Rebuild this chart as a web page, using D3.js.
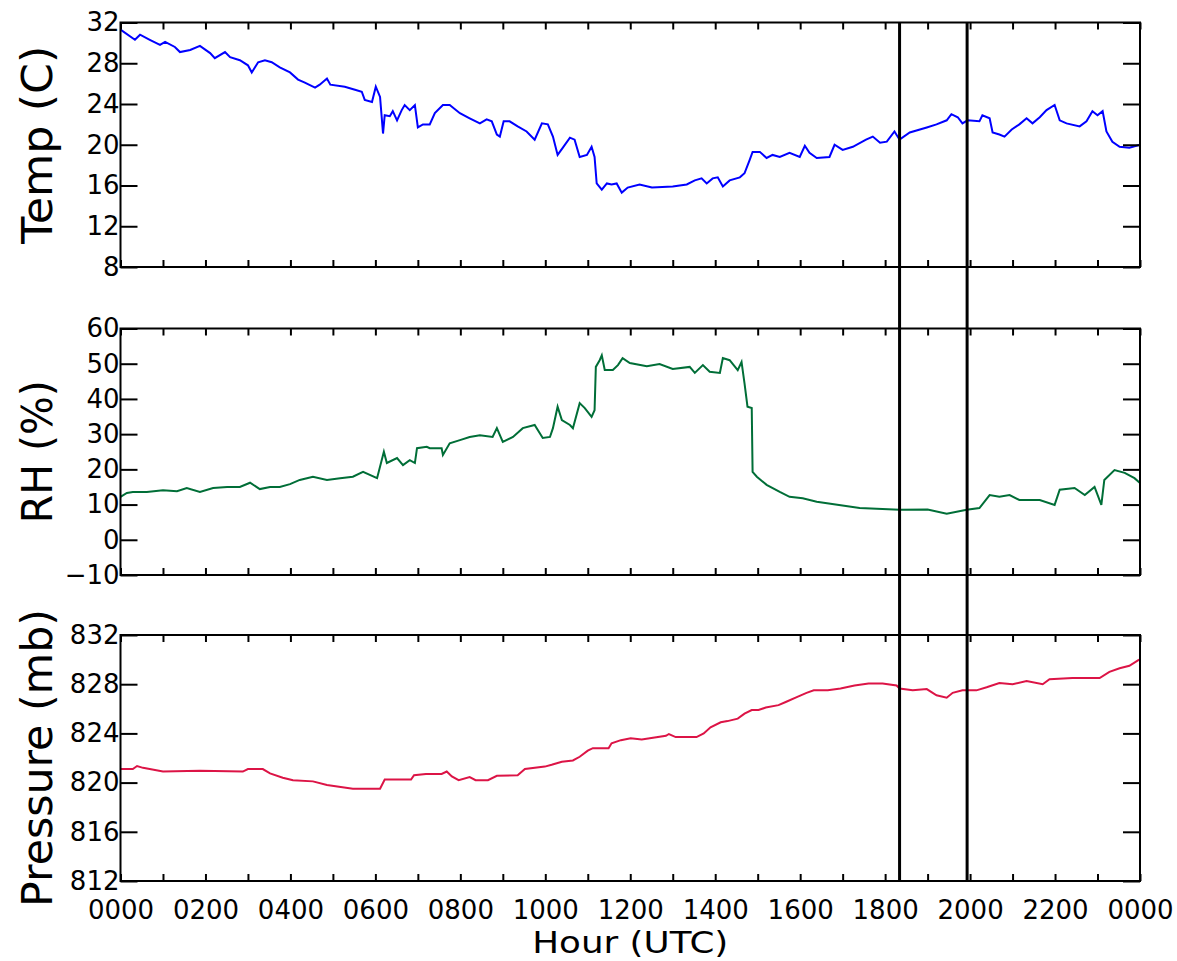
<!DOCTYPE html>
<html>
<head>
<meta charset="utf-8">
<script src="https://cdn.jsdelivr.net/npm/d3@7"></script>
<style>
    body{margin:0;background:#fff;}
    svg{display:block;font-family:"DejaVu Sans",sans-serif;}
</style>
</head>
<body>
<div class="chart"></div>
<script>
// hours since 0000 UTC and readings, picked off the trace
var tempHour=[0,0.34,0.46,0.69,0.93,1.05,1.28,1.40,1.64,1.87,2.11,2.22,2.46,2.58,2.81,3.00,3.09,3.24,3.40,3.56,3.75,3.99,4.18,4.34,4.58,4.69,4.86,4.94,5.28,5.52,5.68,5.75,5.92,6.01,6.11,6.18,6.22,6.34,6.41,6.51,6.62,6.69,6.81,6.93,7.00,7.12,7.28,7.40,7.59,7.75,7.99,8.22,8.46,8.62,8.74,8.86,8.93,9.02,9.16,9.35,9.56,9.75,9.92,10.06,10.18,10.29,10.41,10.58,10.69,10.81,10.98,11.09,11.16,11.21,11.33,11.45,11.56,11.68,11.80,11.94,12.22,12.51,13.00,13.33,13.52,13.68,13.80,13.94,14.06,14.18,14.34,14.58,14.69,14.81,14.88,15.05,15.21,15.35,15.52,15.75,15.99,16.11,16.22,16.39,16.69,16.81,17.00,17.24,17.55,17.71,17.88,18.04,18.22,18.34,18.58,18.98,19.21,19.45,19.56,19.71,19.82,19.94,20.22,20.29,20.46,20.53,20.69,20.81,20.98,21.16,21.33,21.47,21.64,21.80,21.99,22.11,22.27,22.58,22.74,22.88,23.00,23.12,23.21,23.35,23.52,23.75,24.00];
var tempC=[31.3,30.3,30.8,30.3,29.8,30.1,29.6,29.1,29.3,29.7,29.0,28.5,29.1,28.6,28.3,27.8,27.1,28.1,28.3,28.1,27.6,27.1,26.4,26.1,25.6,25.9,26.5,25.9,25.7,25.4,25.2,24.4,24.2,25.7,24.7,21.1,22.9,22.8,23.3,22.4,23.4,23.9,23.4,23.9,21.7,22.0,22.0,23.1,23.9,23.9,23.1,22.6,22.1,22.5,22.3,21.0,20.8,22.3,22.3,21.8,21.3,20.5,22.1,22.0,20.8,19.0,19.7,20.7,20.5,18.8,19.0,19.8,18.8,16.2,15.6,16.2,16.1,16.2,15.3,15.8,16.1,15.8,15.9,16.1,16.5,16.7,16.2,16.7,16.8,15.9,16.5,16.8,17.2,18.5,19.3,19.3,18.7,19.0,18.8,19.2,18.8,19.9,19.2,18.7,18.8,20.0,19.5,19.8,20.5,20.8,20.2,20.3,21.3,20.5,21.2,21.7,22.0,22.4,23.0,22.7,22.1,22.4,22.3,22.9,22.6,21.2,21.0,20.8,21.5,22.0,22.6,22.1,22.7,23.4,23.9,22.4,22.1,21.8,22.3,23.3,22.9,23.3,21.3,20.3,19.8,19.7,20.0];

var rhHour=[0,0.15,0.29,0.62,1.00,1.33,1.56,1.87,2.18,2.51,2.81,3.05,3.28,3.52,3.75,3.99,4.22,4.53,4.86,5.17,5.47,5.71,6.04,6.20,6.27,6.51,6.65,6.81,6.93,6.98,7.21,7.28,7.56,7.59,7.75,7.99,8.22,8.46,8.76,8.86,9.00,9.24,9.47,9.75,9.94,10.11,10.18,10.29,10.39,10.58,10.65,10.81,10.93,11.09,11.16,11.19,11.28,11.33,11.40,11.59,11.71,11.82,11.99,12.39,12.69,13.00,13.40,13.52,13.71,13.87,14.11,14.18,14.34,14.53,14.62,14.69,14.76,14.86,14.88,14.98,15.21,15.52,15.75,16.06,16.39,17.40,18.34,19.00,19.45,19.92,20.22,20.46,20.69,20.93,21.16,21.64,21.99,22.11,22.46,22.70,22.93,23.09,23.16,23.40,23.64,23.87,24.00];
var rhPct=[12.2,13.3,13.6,13.6,14.1,13.8,14.7,13.6,14.7,15.0,15.0,16.2,14.4,15.0,15.0,15.8,17.0,17.9,17.0,17.5,17.9,19.3,17.5,25.0,21.8,23.2,21.2,22.6,21.8,26.0,26.4,26.0,26.0,24.1,27.4,28.3,29.2,29.7,29.2,31.7,27.8,29.2,31.7,32.6,28.9,29.2,31.7,37.8,34.0,32.6,31.7,38.8,37.4,34.9,36.8,49.1,51.0,52.4,48.2,48.2,49.6,51.6,50.2,49.3,49.9,48.5,49.1,47.4,49.6,47.7,47.4,51.6,51.0,48.2,50.5,44.4,37.8,37.4,19.3,17.9,15.6,13.6,12.2,11.8,10.8,9.0,8.5,8.6,7.4,8.5,9.0,12.7,12.2,12.7,11.3,11.3,9.9,14.2,14.7,12.7,15.0,9.9,17.0,19.8,19.0,17.5,16.1];

var presHour=[0,0.29,0.39,0.53,1.00,1.87,2.88,3.00,3.35,3.52,3.82,4.06,4.53,4.86,5.47,6.11,6.22,6.84,6.91,7.19,7.56,7.68,7.80,7.96,8.22,8.36,8.65,8.86,9.35,9.52,9.99,10.15,10.39,10.65,10.81,11.00,11.12,11.49,11.56,11.78,12.01,12.27,12.84,12.91,13.07,13.56,13.73,13.89,14.13,14.29,14.53,14.69,14.86,15.02,15.19,15.49,15.66,15.92,16.15,16.32,16.65,16.95,17.28,17.61,17.94,18.27,18.34,18.65,18.98,19.21,19.45,19.59,19.82,20.15,20.39,20.69,21.00,21.33,21.71,21.87,22.41,23.05,23.28,23.52,23.75,23.98];
var presMb=[821.1,821.1,821.35,821.2,820.9,820.97,820.9,821.1,821.1,820.75,820.4,820.2,820.1,819.8,819.5,819.5,820.25,820.25,820.6,820.7,820.7,820.9,820.5,820.2,820.45,820.2,820.2,820.55,820.6,821.1,821.3,821.45,821.7,821.8,822.1,822.6,822.8,822.8,823.2,823.45,823.6,823.5,823.8,823.95,823.7,823.7,824.0,824.5,824.9,825.0,825.2,825.6,825.9,825.9,826.1,826.3,826.55,826.95,827.3,827.5,827.5,827.65,827.9,828.05,828.05,827.9,827.65,827.5,827.6,827.1,826.9,827.3,827.5,827.5,827.75,828.1,828.0,828.25,828.0,828.4,828.5,828.5,829.0,829.3,829.5,830.0];

var tempTicks=[8,12,16,20,24,28,32];
var rhTicks=[-10,0,10,20,30,40,50,60];
var presTicks=[812,816,820,824,828,832];
var hourLabels=["0000","0200","0400","0600","0800","1000","1200","1400","1600","1800","2000","2200","0000"];
var markerHours=[18.34,19.93];

var W=1177,H=961;
var left=120.5,right=1140;

var svg=d3.select(".chart").append("svg")
    .attr("width",W)
    .attr("height",H);

var x=d3.scaleLinear().domain([0,24]).range([left,right]);
var hourTicks=d3.range(0,25);

var panels=[
    {hours:tempHour, values:tempC, ticks:tempTicks, color:"#0000ff", label:"Temp  (C)", top:22.5, bottom:267, labelLen:198},
    {hours:rhHour, values:rhPct, ticks:rhTicks, color:"#006e37", label:"RH  (%)", top:328.5, bottom:575, labelLen:143},
    {hours:presHour, values:presMb, ticks:presTicks, color:"#dc1446", label:"Pressure  (mb)", top:635, bottom:881, labelLen:298}
];

function fmtY(v){
    return v<0 ? "\u2212"+Math.abs(v) : ""+v;
}

panels.forEach(function(p,i){
    var y=d3.scaleLinear()
        .domain([p.ticks[0],p.ticks[p.ticks.length-1]])
        .range([p.bottom,p.top]);
    var g=svg.append("g").attr("class","panel"+i);

    // data trace
    var line=d3.line()
        .x(function(d,k){return x(p.hours[k]);})
        .y(function(d){return y(d);});
    g.append("path")
        .datum(p.values)
        .attr("d",line)
        .attr("fill","none")
        .attr("stroke",p.color)
        .attr("stroke-width",2)
        .attr("stroke-linejoin","miter");

    // hourly ticks, top and bottom, pointing in
    var bottomAxis=d3.axisBottom(x)
        .tickValues(hourTicks)
        .tickSize(-7)
        .tickSizeOuter(0)
        .tickPadding(19.5)
        .tickFormat(function(h){
            if(i<2) return "";
            return h%2==0 ? hourLabels[h/2] : "";
        });
    g.append("g")
        .attr("transform","translate(0,"+p.bottom+")")
        .call(bottomAxis);
    g.append("g")
        .attr("transform","translate(0,"+p.top+")")
        .call(d3.axisTop(x).tickValues(hourTicks).tickSize(-7).tickSizeOuter(0).tickFormat(""));

    // value ticks left (labelled) and right
    g.append("g")
        .attr("transform","translate("+left+",0)")
        .call(d3.axisLeft(y).tickValues(p.ticks).tickSize(-17).tickSizeOuter(0).tickPadding(1).tickFormat(fmtY));
    g.append("g")
        .attr("transform","translate("+right+",0)")
        .call(d3.axisRight(y).tickValues(p.ticks).tickSize(-17).tickSizeOuter(0).tickFormat(""));

    g.selectAll(".domain").remove();
    g.selectAll(".tick line").attr("stroke","#000").attr("stroke-width",2);
    g.selectAll(".tick text")
        .attr("fill","#000")
        .attr("font-size",26)
        .attr("font-family","DejaVu Sans");

    // frame
    g.append("rect")
        .attr("x",left)
        .attr("y",p.top)
        .attr("width",right-left)
        .attr("height",p.bottom-p.top)
        .attr("fill","none")
        .attr("stroke","#000")
        .attr("stroke-width",2);

    g.append("text")
        .attr("transform","translate(52,"+((p.top+p.bottom)/2)+") rotate(-90)")
        .attr("text-anchor","middle")
        .attr("font-size",43)
        .attr("textLength",p.labelLen)
        .attr("lengthAdjust","spacingAndGlyphs")
        .attr("fill","#000")
        .text(p.label);
});

// time markers through all three panels
svg.selectAll("line.marker").data(markerHours)
    .enter().append("line")
        .attr("class","marker")
        .attr("x1",function(d){return x(d);})
        .attr("x2",function(d){return x(d);})
        .attr("y1",panels[0].top)
        .attr("y2",panels[2].bottom)
        .attr("stroke","#000")
        .attr("stroke-width",3);

svg.append("text")
    .attr("x",(left+right)/2)
    .attr("y",953)
    .attr("text-anchor","middle")
    .attr("font-size",31)
    .attr("textLength",196)
    .attr("lengthAdjust","spacingAndGlyphs")
    .attr("fill","#000")
    .text("Hour  (UTC)");
</script>
</body>
</html>
